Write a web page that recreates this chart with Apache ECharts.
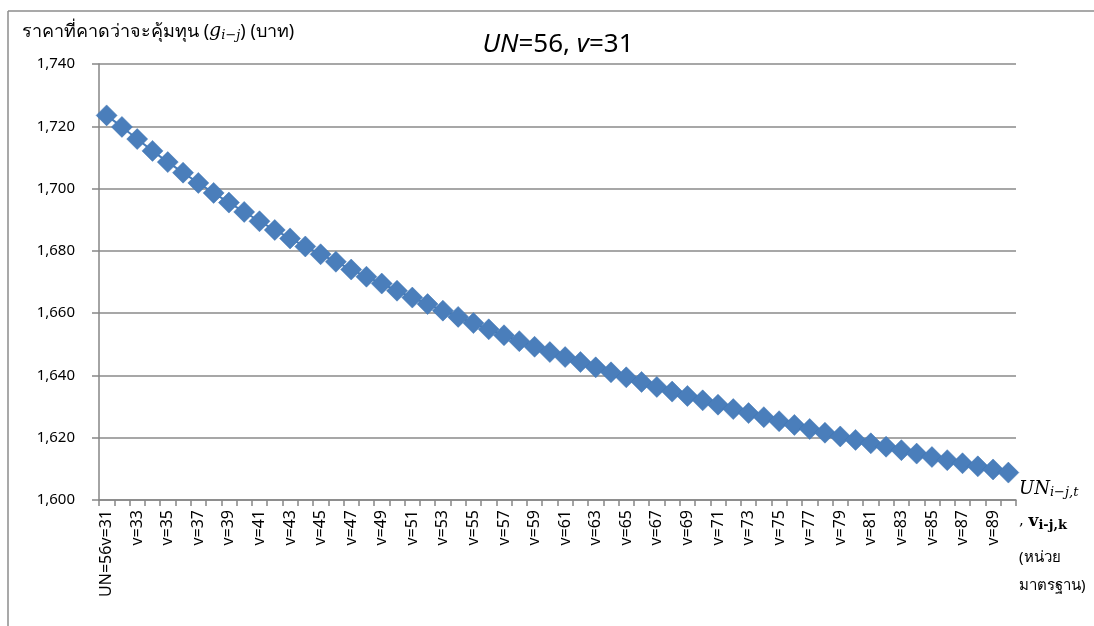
<!DOCTYPE html>
<html>
<head>
<meta charset="utf-8">
<script src="https://cdn.jsdelivr.net/npm/echarts@6/dist/echarts.min.js"></script>
<style>
html,body{margin:0;padding:0;background:#fff;}
#c{width:1094px;height:626px;}
</style>
</head>
<body>
<div id="c"></div>
<script>
var categories = ["UN=56v=31"];
var vNumbers = [32,33,34,35,36,37,38,39,40,41,42,43,44,45,46,47,48,49,50,51,52,53,54,55,56,57,58,59,60,61,62,63,64,65,66,67,68,69,70,71,72,73,74,75,76,77,78,79,80,81,82,83,84,85,86,87,88,89,90];
vNumbers.forEach(function(n){ categories.push("v=" + n); });

var breakEvenPrice = [
  1723.5, 1719.8, 1715.9, 1712.1, 1708.5, 1705.1, 1701.8, 1698.6, 1695.5, 1692.5,
  1689.5, 1686.7, 1684.0, 1681.4, 1678.9, 1676.5, 1674.0, 1671.7, 1669.5, 1667.2,
  1665.0, 1662.9, 1660.8, 1658.8, 1656.8, 1654.8, 1652.9, 1651.0, 1649.2, 1647.5,
  1645.9, 1644.3, 1642.6, 1641.0, 1639.4, 1637.9, 1636.3, 1634.8, 1633.4, 1632.0,
  1630.6, 1629.2, 1627.9, 1626.6, 1625.3, 1624.1, 1622.8, 1621.6, 1620.4, 1619.3,
  1618.2, 1617.1, 1616.0, 1614.9, 1613.8, 1612.8, 1611.8, 1610.8, 1609.8, 1608.8
];

var yMin = 1600, yMax = 1740, yStep = 20;

var FONT = '"Noto Sans", "Open Sans", "DejaVu Sans", sans-serif';
var SERIF = '"DejaVu Serif", "Liberation Serif", serif';

var chart = echarts.init(document.getElementById('c'));
chart.setOption({
  animation: false,
  backgroundColor: '#ffffff',
  graphic: [
    { type: 'line', shape: { x1: 8, y1: 11, x2: 1094, y2: 11 },
      style: { stroke: '#8c8c8c', lineWidth: 1.5 }, silent: true },
    { type: 'line', shape: { x1: 8, y1: 11, x2: 8, y2: 626 },
      style: { stroke: '#8c8c8c', lineWidth: 1.5 }, silent: true },
    { type: 'text', left: 22, top: 22,
      style: {
        text: '{t|ราคาที่คาดว่าจะคุ้มทุน (}{g|g}{s|i−j}{t|) (บาท)}',
        rich: {
          t: { fontFamily: FONT, fontSize: 18, fill: '#000' },
          g: { fontFamily: SERIF, fontStyle: 'italic', fontSize: 19, fill: '#000' },
          s: { fontFamily: SERIF, fontStyle: 'italic', fontSize: 13, fill: '#000', padding: [8,0,0,0] }
        }
      } },
    { type: 'text', left: 1019, top: 480,
      style: {
        text: '{u|UN}{s|i−j,t}',
        rich: {
          u: { fontFamily: SERIF, fontStyle: 'italic', fontSize: 18, fill: '#000' },
          s: { fontFamily: SERIF, fontStyle: 'italic', fontSize: 13, fill: '#000', padding: [8,0,0,0] }
        }
      } },
    { type: 'text', left: 1019, top: 513,
      style: {
        text: '{c|, }{v|v}{s|i-j,k}',
        rich: {
          c: { fontFamily: SERIF, fontSize: 15, fill: '#000' },
          v: { fontFamily: SERIF, fontWeight: 'bold', fontSize: 17, fill: '#000' },
          s: { fontFamily: SERIF, fontWeight: 'bold', fontSize: 13, fill: '#000', padding: [8,0,0,0] }
        }
      } },
    { type: 'text', left: 1019, top: 550,
      style: { text: '(หน่วย', fontFamily: FONT, fontSize: 15, fill: '#000' } },
    { type: 'text', left: 1019, top: 578,
      style: { text: 'มาตรฐาน)', fontFamily: FONT, fontSize: 15, fill: '#000' } }
  ],
  title: {
    text: '{i|UN}{n|=56, }{i|v}{n|=31}',
    left: 553, top: 27, textAlign: 'center',
    textStyle: {
      fontWeight: 'normal',
      rich: {
        i: { fontFamily: FONT, fontStyle: 'italic', fontWeight: 'normal', fontSize: 26, color: '#000' },
        n: { fontFamily: FONT, fontWeight: 'normal', fontSize: 26, color: '#000' }
      }
    }
  },
  grid: { left: 99, right: 78, top: 64, bottom: 126, containLabel: false },
  xAxis: {
    type: 'category',
    data: categories,
    boundaryGap: true,
    axisLine: { lineStyle: { color: '#868686', width: 1.5 } },
    axisTick: { show: true, interval: 0, length: 6, lineStyle: { color: '#868686', width: 1.5 } },
    axisLabel: { interval: 1, rotate: 90, fontFamily: FONT, fontSize: 16, color: '#000', margin: 10 },
    splitLine: { show: false }
  },
  yAxis: {
    type: 'value',
    min: yMin, max: yMax, interval: yStep,
    axisLine: { show: true, lineStyle: { color: '#868686', width: 1.5 } },
    axisTick: { show: true, length: 7, lineStyle: { color: '#868686', width: 1.5 } },
    axisLabel: {
      fontFamily: FONT, fontSize: 15, color: '#000', margin: 24,
      formatter: function (v) { return v.toLocaleString('en-US'); }
    },
    splitLine: { show: true, lineStyle: { color: '#8a8a8a', width: 1.5 } }
  },
  series: [{
    type: 'line',
    data: breakEvenPrice,
    showAllSymbol: true,
    symbol: 'diamond',
    symbolSize: 21,
    itemStyle: { color: '#4a7ebb', borderColor: '#3f74b3', borderWidth: 0.5 },
    lineStyle: { color: '#4a7ebb', width: 2 }
  }]
});
</script>
</body>
</html>
